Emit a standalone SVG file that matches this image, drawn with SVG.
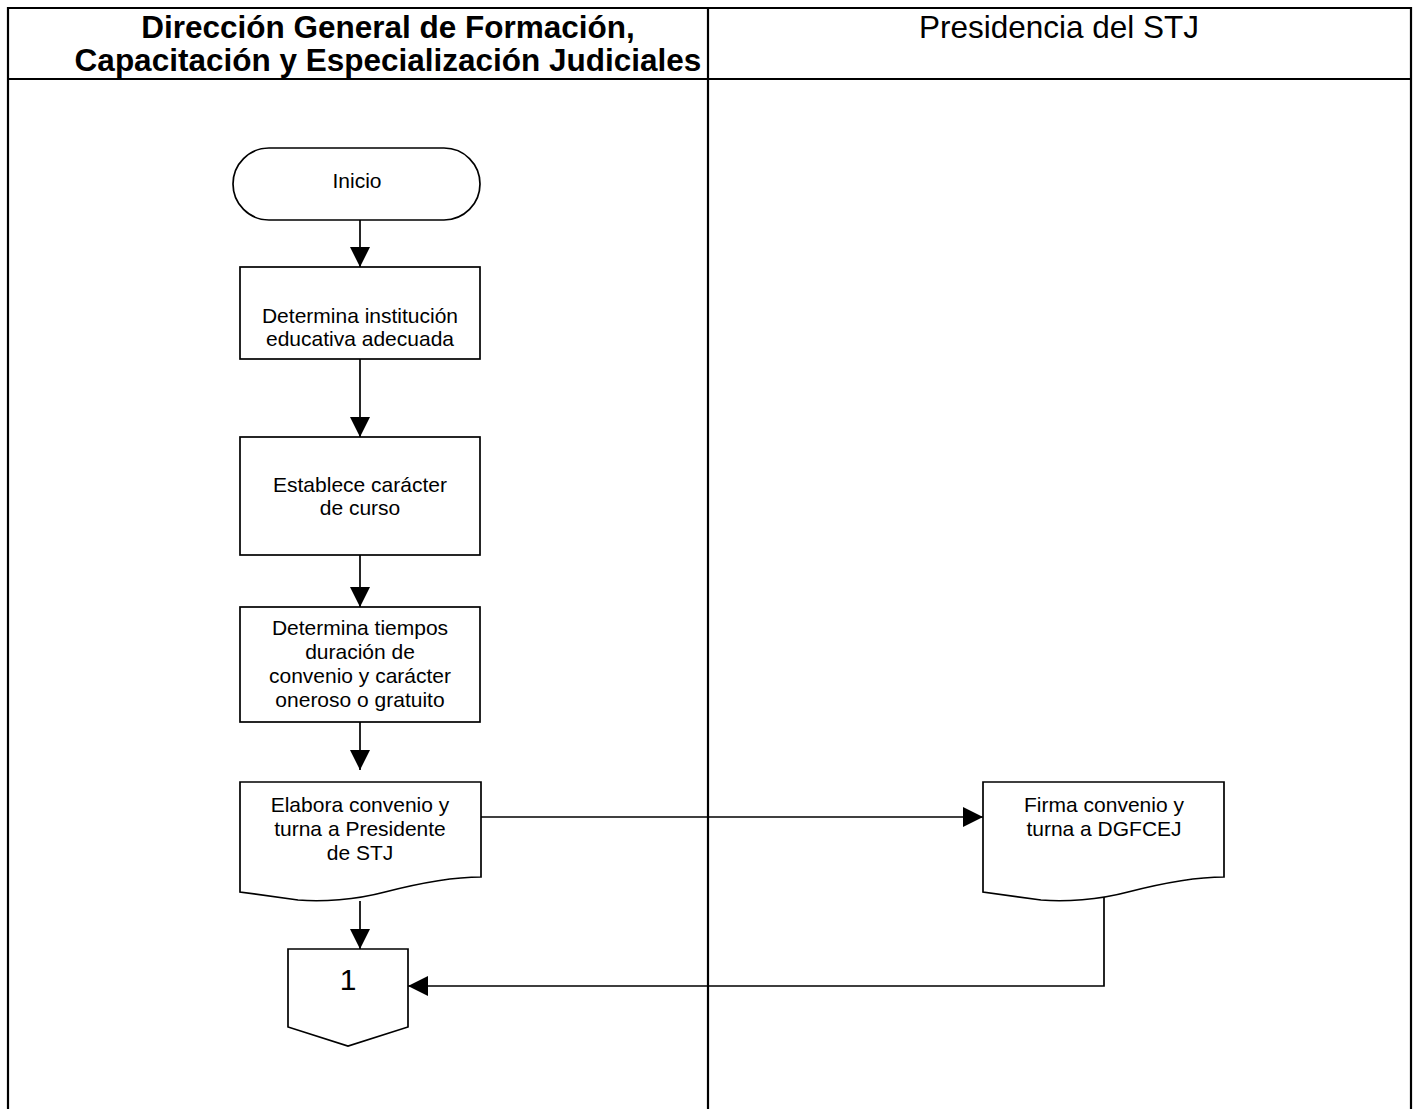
<svg xmlns="http://www.w3.org/2000/svg" width="1416" height="1109" viewBox="0 0 1416 1109">
<defs>
<marker id="ah" markerUnits="userSpaceOnUse" markerWidth="20" markerHeight="20" refX="20" refY="10" orient="auto">
<path d="M0,0 L20,10 L0,20 Z" fill="#000"/>
</marker>
<path id="doc" d="M0,0 H241 V95 C215,95 180,101 145,110 C115,118 82,120 58,118 L0,110 Z"/>
</defs>
<style>
.lane{fill:none;stroke:#000;stroke-width:2.2}
.shape{fill:#fff;stroke:#000;stroke-width:1.7}
.conn{fill:none;stroke:#000;stroke-width:1.7}
.t{font-family:"Liberation Sans",Arial,sans-serif;font-size:21px;fill:#000;text-anchor:middle}
.h{font-family:"Liberation Sans",Arial,sans-serif;font-size:31.5px;fill:#000;text-anchor:middle}
</style>
<rect width="1416" height="1109" fill="#fff"/>
<g id="lanes">
<path class="lane" d="M8,1109 V8 H1411 V1109 M8,79 H1411 M708,8 V1109"/>
<text class="h" x="388" y="38" font-weight="bold">Dirección General de Formación,</text>
<text class="h" x="388" y="71" font-weight="bold">Capacitación y Especialización Judiciales</text>
<text class="h" x="1059" y="38">Presidencia del STJ</text>
</g>
<g id="connectors">
<line class="conn" x1="360" y1="220" x2="360" y2="267" marker-end="url(#ah)"/>
<line class="conn" x1="360" y1="359" x2="360" y2="437" marker-end="url(#ah)"/>
<line class="conn" x1="360" y1="555" x2="360" y2="607" marker-end="url(#ah)"/>
<line class="conn" x1="360" y1="722" x2="360" y2="770" marker-end="url(#ah)"/>
<line class="conn" x1="480" y1="817" x2="983" y2="817" marker-end="url(#ah)"/>
<line class="conn" x1="360" y1="901" x2="360" y2="949" marker-end="url(#ah)"/>
<polyline class="conn" points="1104,895 1104,986 408,986" marker-end="url(#ah)"/>
</g>
<g id="n-inicio">
<rect class="shape" x="233" y="148" width="247" height="72" rx="36" ry="36"/>
<text class="t" x="357" y="188">Inicio</text>
</g>
<g id="n-determina">
<rect class="shape" x="240" y="267" width="240" height="92"/>
<text class="t" x="360" y="323">Determina institución</text>
<text class="t" x="360" y="346">educativa adecuada</text>
</g>
<g id="n-establece">
<rect class="shape" x="240" y="437" width="240" height="118"/>
<text class="t" x="360" y="492">Establece carácter</text>
<text class="t" x="360" y="515">de curso</text>
</g>
<g id="n-tiempos">
<rect class="shape" x="240" y="607" width="240" height="115"/>
<text class="t" x="360" y="635">Determina tiempos</text>
<text class="t" x="360" y="659">duración de</text>
<text class="t" x="360" y="683">convenio y carácter</text>
<text class="t" x="360" y="707">oneroso o gratuito</text>
</g>
<g id="n-elabora">
<use href="#doc" x="240" y="782" class="shape"/>
<text class="t" x="360" y="812">Elabora convenio y</text>
<text class="t" x="360" y="836">turna a Presidente</text>
<text class="t" x="360" y="860">de STJ</text>
</g>
<g id="n-firma">
<use href="#doc" x="983" y="782" class="shape"/>
<text class="t" x="1104" y="812">Firma convenio y</text>
<text class="t" x="1104" y="836">turna a DGFCEJ</text>
</g>
<g id="n-conector1">
<path class="shape" d="M288,949 H408 V1027 L348,1046 L288,1027 Z"/>
<text class="t" x="348" y="990" style="font-size:30px">1</text>
</g>
</svg>
